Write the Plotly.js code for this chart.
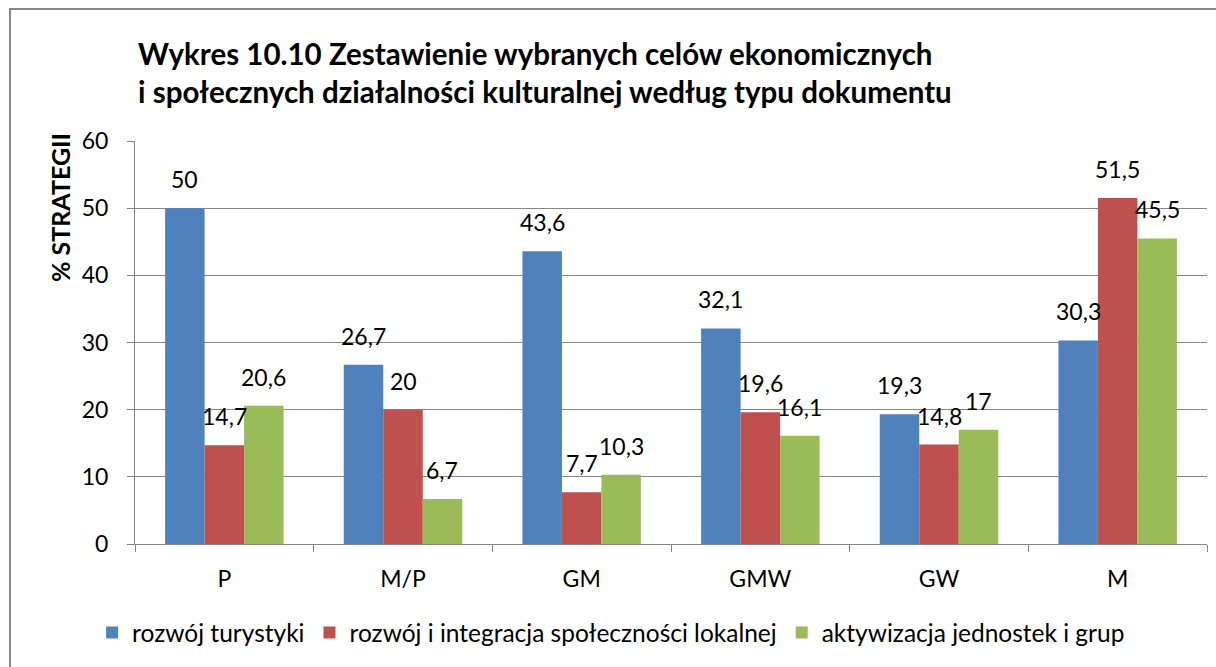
<!DOCTYPE html>
<html>
<head>
<meta charset="utf-8">
<script src="https://cdn.plot.ly/plotly-3.0.1.min.js"></script>
<style>html,body{margin:0;padding:0;background:#fff;}#chart{width:1216px;height:667px;}</style>
</head>
<body>
<div id="chart"></div>
<script>
const categories = ['P', 'M/P', 'GM', 'GMW', 'GW', 'M'];
const seriesNames = ['rozwój turystyki', 'rozwój i integracja społeczności lokalnej', 'aktywizacja jednostek i grup'];
const turystyka = [50, 26.7, 43.6, 32.1, 19.3, 30.3];
const integracja = [14.7, 20, 7.7, 19.6, 14.8, 51.5];
const aktywizacja = [20.6, 6.7, 10.3, 16.1, 17, 45.5];
const colors = ['#4F81BD', '#C0504D', '#9BBB59'];
const yTicks = [0, 10, 20, 30, 40, 50, 60];

const series = [turystyka, integracja, aktywizacja];
const FONT = 'Lato, "Open Sans", sans-serif';

const traces = series.map((vals, i) => ({
  type: 'bar',
  name: seriesNames[i],
  x: categories,
  y: vals,
  marker: {color: colors[i], line: {width: 0}},
  hoverinfo: 'skip'
}));

const plotW = 1216 - 135 - 9;
const barPx = plotW / 6 * (1 - 0.337) / 3;

const annotations = [];
series.forEach((vals, i) => {
  vals.forEach((v, j) => {
    annotations.push({
      x: categories[j], y: v, xref: 'x', yref: 'y',
      text: String(v).replace('.', ','),
      showarrow: false, xanchor: 'center', yanchor: 'bottom',
      xshift: (i - 1) * barPx, yshift: 13,
      font: {family: FONT, size: 23, color: '#000'}
    });
  });
});
annotations.push({
  xref: 'paper', yref: 'paper', x: -0.07, y: 0.836,
  text: '<b>% STRATEGII</b>', textangle: -90, showarrow: false,
  xanchor: 'center', yanchor: 'middle',
  font: {family: FONT, size: 25, color: '#000'}
});

const layout = {
  width: 1216, height: 667,
  margin: {l: 135, r: 9, t: 141, b: 123},
  paper_bgcolor: '#fff', plot_bgcolor: '#fff',
  font: {family: FONT, color: '#000'},
  title: {
    text: '<b>Wykres 10.10 Zestawienie wybranych celów ekonomicznych<br>i społecznych działalności kulturalnej według typu dokumentu</b>',
    x: 138 / 1216, xref: 'container', xanchor: 'left',
    y: 0.9025, yref: 'container', yanchor: 'top',
    font: {family: FONT, size: 29.5, color: '#000'}
  },
  barmode: 'group', bargap: 0.337, bargroupgap: 0,
  xaxis: {
    type: 'category',
    showline: true, linecolor: '#868686', linewidth: 1,
    ticks: 'outside', tickson: 'boundaries', ticklen: 7, tickcolor: '#868686',
    ticklabelstandoff: 14,
    tickfont: {family: FONT, size: 23, color: '#000'},
    showgrid: false, zeroline: false, fixedrange: true
  },
  yaxis: {
    range: [0, 60], tickvals: yTicks,
    showline: true, linecolor: '#868686', linewidth: 1,
    ticks: 'outside', ticklen: 7, tickcolor: '#868686',
    ticklabelstandoff: 14,
    tickfont: {family: FONT, size: 23, color: '#000'},
    showgrid: true, gridcolor: '#868686', gridwidth: 1,
    zeroline: false, fixedrange: true
  },
  showlegend: true,
  legend: {
    orientation: 'h', x: -0.04, xanchor: 'left', y: -0.22, yanchor: 'middle',
    font: {family: FONT, size: 24.5, color: '#000'},
    itemclick: false, itemdoubleclick: false
  },
  shapes: [{
    type: 'rect', xref: 'paper', yref: 'paper',
    x0: (10 - 135) / plotW, x1: 1.2, y0: -0.5, y1: (544 - 9) / 403,
    line: {color: '#868686', width: 2}, fillcolor: 'rgba(0,0,0,0)', layer: 'below'
  }],
  annotations: annotations
};

Plotly.newPlot('chart', traces, layout, {displayModeBar: false, staticPlot: true});
</script>
</body>
</html>
